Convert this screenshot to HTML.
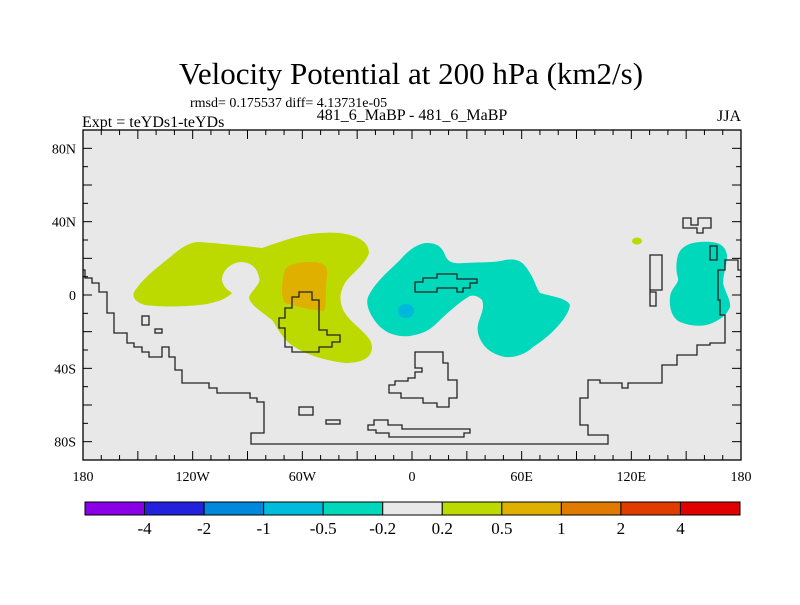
<!DOCTYPE html>
<html><head><meta charset="utf-8"><style>
body{margin:0;background:#fff;}
svg text{font-family:"Liberation Serif",serif;fill:#000;}
</style></head><body>
<svg width="800" height="600" viewBox="0 0 800 600">
<text x="411" y="84" font-size="31" text-anchor="middle">Velocity Potential at 200 hPa (km2/s)</text>
<text x="190" y="107" font-size="14">rmsd= 0.175537 diff= 4.13731e-05</text>
<text x="82" y="127" font-size="16">Expt = teYDs1-teYDs</text>
<text x="412" y="120" font-size="16" text-anchor="middle">481_6_MaBP - 481_6_MaBP</text>
<text x="741" y="121" font-size="16" text-anchor="end">JJA</text>
<rect x="83" y="130" width="658" height="330" fill="#e8e8e8"/>
<g>
<path fill="#bcd900" d="M134,292 C145,275 165,262 175,253 C185,245 192,242 199,242 C225,244 245,246 262,248 C285,240 305,233 322,233 C345,231 369,237 369,253 C365,265 350,275 345,283 C338,295 340,305 345,313 C352,325 372,335 372,347 C372,360 358,363 345,363 C320,360 300,352 289,343 C280,335 276,325 272,320 C262,312 249,304 249,297 C252,290 262,283 259,277 C257,268 252,263 242,262 C232,262 222,270 222,280 C224,290 232,292 232,293 C225,300 215,303 200,305 C180,307 160,307 145,305 C135,302 132,297 134,292Z"/>
<path fill="#dfb000" d="M285,270 C290,262 305,262 315,262 C325,263 328,268 327,275 C325,290 327,305 324,311 C310,310 295,306 285,303 C281,297 281,285 285,270Z"/>
<path fill="#00d8bc" d="M368,297 C375,282 390,270 400,260 C410,248 420,243 427,243 C437,243 442,247 445,255 C448,262 452,264 465,263 C480,262 493,263 505,260 C518,258 523,262 528,270 C534,278 536,288 540,293 C550,296 567,298 570,305 C568,320 545,340 533,347 C525,355 513,358 505,357 C495,355 487,350 483,344 C477,335 476,328 480,318 C483,310 484,305 482,300 C478,296 474,295 470,296 C463,300 455,306 440,320 C432,328 427,333 410,336 C393,338 380,330 373,318 C368,310 366,303 368,297Z"/>
<ellipse fill="#00b8dc" cx="406" cy="311" rx="8" ry="7"/>
<path fill="#00d8bc" d="M677,260 C678,250 685,243 700,242 C715,241 725,243 727,255 C727,265 723,275 723,283 C725,292 731,300 730,307 C727,315 720,320 710,324 C700,327 690,326 680,322 C672,318 669,308 670,297 C671,288 679,284 678,278 C676,272 676,265 677,260Z"/>
<ellipse fill="#bcd900" cx="637" cy="241" rx="5" ry="3.5"/>
</g>
<g fill="none" stroke="#222" stroke-width="1.3">
<path d="M83,270 L85,270 L85,278 L92,278 L92,283 L99,283 L99,292 L107,292 L107,313 L114,313 L114,333 L127,333 L127,343 L134,343 L134,347 L142,347 L142,352 L149,352 L149,357 L162,357 L162,347 L169,347 L169,357 L175,357 L175,370 L182,370 L182,383 L209,383 L209,388 L217,388 L217,393 L250,393 L250,398 L257,398 L257,402 L264,402 L264,433 L251,433 L251,444 L608,444 L608,435 L588,435 L588,425 L580,425 L580,398 L588,398 L588,380 L600,380 L600,383 L622,383 L622,388 L628,388 L628,383 L662,383 L662,365 L677,365 L677,355 L697,355 L697,345 L710,345 L710,343 L725,343 L725,315 L720,315 L720,300 L718,300 L718,270 L725,270 L725,260 L738,260 L738,270 L741,270"/>
<path d="M299,292 L312,292 L312,300 L319,300 L319,330 L327,330 L327,335 L340,335 L340,342 L332,342 L332,347 L319,347 L319,352 L292,352 L292,347 L285,347 L285,328 L279,328 L279,318 L285,318 L285,308 L292,308 L292,297 L299,297Z"/>
<path d="M415,282 L423,282 L423,278 L437,278 L437,274 L457,274 L457,279 L477,279 L477,283 L470,283 L470,288 L463,288 L463,292 L457,292 L457,288 L437,288 L437,292 L415,292Z"/>
<path d="M415,352 L443,352 L443,363 L448,363 L448,380 L457,380 L457,398 L449,398 L449,407 L437,407 L437,403 L423,403 L423,398 L401,398 L401,393 L389,393 L389,385 L395,385 L395,381 L408,381 L408,378 L415,378 L415,372 L422,372 L422,368 L415,368Z"/>
<path d="M374,420 L388,420 L388,425 L402,425 L402,429 L470,429 L470,433 L464,433 L464,437 L389,437 L389,433 L376,433 L376,430 L368,430 L368,425 L374,425Z"/>
<rect x="299" y="407" width="14" height="8"/><rect x="326" y="420" width="14" height="4"/>
<rect x="142" y="316" width="7" height="9"/><rect x="155" y="329" width="7" height="4"/>
<path d="M650,255 L662,255 L662,290 L650,290 L650,292 L656,292 L656,306 L650,306Z"/>
<path d="M683,218 L691,218 L691,225 L698,225 L698,218 L711,218 L711,228 L703,228 L703,233 L697,233 L697,228 L683,228Z"/>
<rect x="710" y="246" width="7" height="14"/>
</g>
<rect x="83" y="130" width="658" height="330" fill="none" stroke="#000" stroke-width="1.3"/>
<g id="axes"></g>
<g id="cbar"></g>
<script>
const lonLabels=["180","120W","60W","0","60E","120E","180"];
const latLabels=["80N","40N","0","40S","80S"];
const latValues=[80,40,0,-40,-80];
const cbColors=["#8a00e6","#2222dd","#0088dd","#00bcdc","#00d8bc","#e8e8e8","#bcd900","#dfb000","#e07a00","#e03c00","#e00000"];
const cbLabels=["-4","-2","-1","-0.5","-0.2","0.2","0.5","1","2","4"];
const NS="http://www.w3.org/2000/svg";
const X0=83,X1=741,Y0=130,Y1=460;
const xOf=lon=>X0+(lon+180)/360*(X1-X0);
const yOf=lat=>Y0+(90-lat)/180*(Y1-Y0);
const ax=document.getElementById('axes');
function mk(t,a,p){const e=document.createElementNS(NS,t);for(const k in a)e.setAttribute(k,a[k]);p.appendChild(e);return e;}
for(let lon=-180;lon<=180;lon+=10){const x=xOf(lon);const L=lon%30===0?9:5;
 const t1=mk('line',{x1:x,x2:x,y1:Y1,y2:Y1-L,stroke:'#000','stroke-width':1},ax);
 
 const t2=mk('line',{x1:x,x2:x,y1:Y0,y2:Y0+L,stroke:'#000','stroke-width':1},ax);
 }
for(let lat=-90;lat<=90;lat+=10){const y=yOf(lat);const L=lat%20===0?9:5;
 const t1=mk('line',{x1:X0,x2:X0+L,y1:y,y2:y,stroke:'#000','stroke-width':1},ax);
 
 const t2=mk('line',{x1:X1,x2:X1-L,y1:y,y2:y,stroke:'#000','stroke-width':1},ax);
 }
lonLabels.forEach((s,i)=>{const t=mk('text',{x:xOf(-180+i*60),y:481,'font-size':14,'text-anchor':'middle'},ax);t.textContent=s;
 });
latLabels.forEach((s,i)=>{const t=mk('text',{x:76,y:yOf(latValues[i])+5,'font-size':14,'text-anchor':'end'},ax);t.textContent=s;
 });
const cb=document.getElementById('cbar');const CX0=85,CX1=740,n=cbColors.length,w=(CX1-CX0)/n;
cbColors.forEach((c,i)=>{const r=mk('rect',{x:CX0+i*w,y:502,width:w,height:13,fill:c,stroke:'#000','stroke-width':1},cb);
 });
cbLabels.forEach((s,i)=>{const t=mk('text',{x:CX0+(i+1)*w,y:534,'font-size':17,'text-anchor':'middle'},cb);t.textContent=s;
 });
</script>
</svg>
</body></html>
